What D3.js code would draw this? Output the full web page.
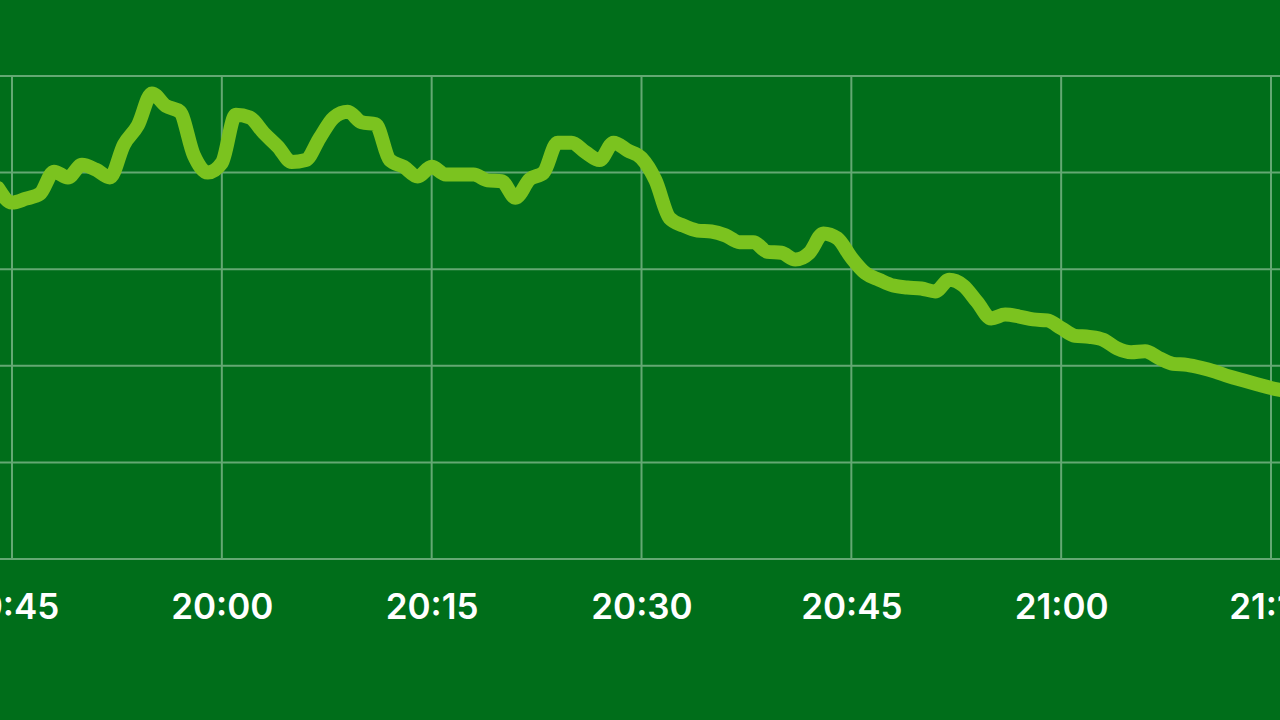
<!DOCTYPE html>
<html>
<head>
<meta charset="utf-8">
<script src="https://cdn.jsdelivr.net/npm/d3@7"></script>
<style>
  html, body { margin: 0; padding: 0; background: #006e1a; overflow: hidden; }
  svg { display: block; }
  .grid line { stroke: #64a873; stroke-width: 2; }
  .axis text { fill: #ffffff; font-family: Inter, "Open Sans", sans-serif; font-weight: 600; font-size: 35px; }
  .line { fill: none; stroke: #7bc31f; stroke-width: 14; stroke-linejoin: round; stroke-linecap: round; }
</style>
</head>
<body>
<div id="chart"></div>
<script>
  // one reading per minute, starting at 19:44
  const startTime = "19:44";
  const values = [
    38.4, 36.9, 37.3, 37.8, 40.1, 39.5, 40.8, 40.3, 39.5, 42.9,
    44.9, 48.2, 46.9, 46.3, 41.8, 40.0, 41.0, 46.0, 45.7, 44.1,
    42.7, 41.1, 41.3, 43.6, 45.7, 46.3, 45.2, 45.0, 41.3, 40.6,
    39.6, 40.6, 39.8, 39.8, 39.8, 39.2, 39.1, 37.4, 39.3, 40.0,
    43.1, 43.1, 42.1, 41.3, 43.1, 42.3, 41.5, 39.2, 35.3, 34.5,
    34.0, 33.9, 33.5, 32.8, 32.8, 31.8, 31.7, 31.0, 31.7, 33.7,
    33.2, 31.2, 29.6, 28.9, 28.3, 28.1, 28.0, 27.7, 28.9, 28.3,
    26.6, 24.9, 25.3, 25.1, 24.8, 24.7, 23.9, 23.1, 23.0, 22.7,
    21.8, 21.4, 21.5, 20.8, 20.2, 20.1, 19.8, 19.4, 18.9, 18.5,
    18.1, 17.7, 17.4
  ];
  const tickLabels = ["19:45", "20:00", "20:15", "20:30", "20:45", "21:00", "21:15"];
  const yTicks = [0, 10, 20, 30, 40, 50];

  const width = 1280;
  const height = 720;
  const plot = {left: 12, right: 1271, top: 76, bottom: 559};

  const parse = d3.timeParse("%H:%M");
  const t0 = parse(startTime);
  const data = values.map(function (v, i) {
    return {t: d3.timeMinute.offset(t0, i), v: v};
  });
  const tickDates = tickLabels.map(parse);

  const x = d3.scaleTime()
    .domain([tickDates[0], tickDates[tickDates.length - 1]])
    .range([plot.left, plot.right]);

  const y = d3.scaleLinear()
    .domain([0, 50])
    .range([plot.bottom, plot.top]);

  const svg = d3.select("#chart").append("svg")
    .attr("width", width)
    .attr("height", height);

  svg.append("rect")
    .attr("width", width)
    .attr("height", height)
    .attr("fill", "#006e1a");

  // horizontal grid
  svg.append("g")
    .attr("class", "grid")
    .selectAll("line")
    .data(yTicks)
    .join("line")
    .attr("x1", 0)
    .attr("x2", width)
    .attr("y1", function (d) { return y(d); })
    .attr("y2", function (d) { return y(d); });

  // vertical grid
  svg.append("g")
    .attr("class", "grid")
    .selectAll("line")
    .data(tickDates)
    .join("line")
    .attr("x1", function (d) { return x(d); })
    .attr("x2", function (d) { return x(d); })
    .attr("y1", y(50) - 1)
    .attr("y2", y(0));

  const line = d3.line()
    .curve(d3.curveMonotoneX)
    .x(function (d) { return x(d.t); })
    .y(function (d) { return y(d.v); });

  svg.append("path")
    .attr("class", "line")
    .attr("d", line(data));

  const axis = svg.append("g")
    .attr("class", "axis")
    .attr("transform", "translate(0," + plot.bottom + ")")
    .call(d3.axisBottom(x)
      .tickValues(tickDates)
      .tickSize(0)
      .tickPadding(35)
      .tickFormat(d3.timeFormat("%H:%M")));

  axis.select(".domain").remove();
  axis.selectAll("text").attr("font-size", null).attr("font-family", null);
</script>
</body>
</html>
